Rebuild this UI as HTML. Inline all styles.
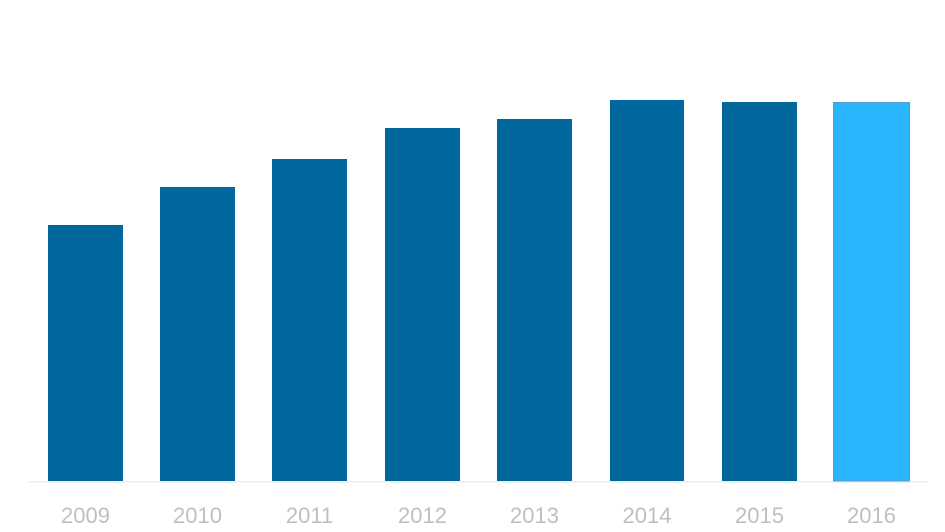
<!DOCTYPE html>
<html><head><meta charset="utf-8"><style>
html,body{margin:0;padding:0;background:#fff;}
svg{display:block;}
text{font-family:"Liberation Sans",sans-serif;font-size:22px;fill:#bfbfbf;text-anchor:middle;}
</style></head><body>
<svg width="945" height="532" viewBox="0 0 945 532" xmlns="http://www.w3.org/2000/svg">
<rect x="0" y="0" width="945" height="532" fill="#ffffff"/>
<rect x="29" y="481" width="899" height="1.6" fill="#eeeeee"/>
<g fill="#00689c">
<rect x="48" y="225" width="75" height="256"/>
<rect x="160" y="187" width="75" height="294"/>
<rect x="272" y="159" width="75" height="322"/>
<rect x="385" y="128" width="75" height="353"/>
<rect x="497" y="119" width="75" height="362"/>
<rect x="610" y="100" width="74" height="381"/>
<rect x="722" y="102" width="75" height="379"/>
</g>
<rect x="833.5" y="102.5" width="76" height="378.5" fill="#29b6ff" stroke="#5b9bd5" stroke-width="1"/>
<text x="85.5" y="523">2009</text>
<text x="197.5" y="523">2010</text>
<text x="309.5" y="523">2011</text>
<text x="422.5" y="523">2012</text>
<text x="534.5" y="523">2013</text>
<text x="647" y="523">2014</text>
<text x="759.5" y="523">2015</text>
<text x="871.5" y="523">2016</text>
</svg>
</body></html>
